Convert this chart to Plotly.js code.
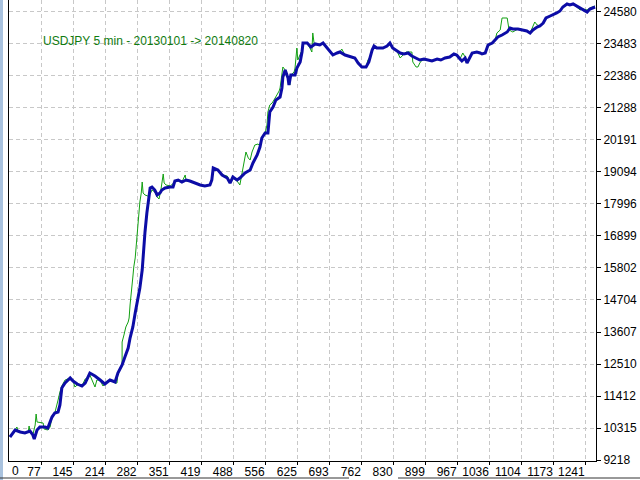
<!DOCTYPE html>
<html>
<head>
<meta charset="utf-8">
<script src="https://cdn.plot.ly/plotly-3.0.1.min.js"></script>
<style>html,body{margin:0;padding:0;background:#fff;}#chart{width:640px;height:480px;}</style>
</head>
<body>
<div id="chart"></div>
<script>
// Chart title
const chartTitle = "USDJPY 5 min - 20130101 -> 20140820";

// X axis (trade number) tick labels
const xTickLabels = [77, 145, 214, 282, 351, 419, 488, 556, 625, 693, 762, 830, 899, 967, 1036, 1104, 1173, 1241];
const xFirstLabel = "0";

// Y axis tick labels
const yTickValues = [9218, 10315.33, 11412.67, 12510, 13607.33, 14704.67, 15802, 16899.33, 17996.67, 19094, 20191.33, 21288.67, 22386, 23483.33, 24580.67];
const yTickLabels = ["9218", "10315", "11412", "12510", "13607", "14704", "15802", "16899", "17996", "19094", "20191", "21288", "22386", "23483", "24580"];

// Balance (blue)
const balanceX = [9,20,31,41,52,58,61,67,73,84,90,99,105,112,116,120,127,138,144,153,163,170,180,191,202,212,223,234,240,249,255,262,266,272,277,283,287,292,294,298,302,307,309,313,319,324,330,334,341,352,358,362,369,377,386,394,405,416,426,437,441,444,454,463,474,480,486,495,501,512,523,529,538,544,548,555,561,563,565,572,578,587,591,593,598,604,606,610,619,623,630,634,636,645,653,662,672,679,688,694,700,709,715,726,737,747,754,762,771,777,784,788,794,807,816,822,828,837,844,852,861,869,878,886,895,902,912,923,931,940,950,959,965,972,976,983,987,998,1008,1015,1019,1026,1030,1032,1041,1047,1053,1062,1073,1079,1085,1096,1107,1115,1122,1128,1137,1143,1150,1156,1165,1171,1179,1186,1192,1201,1207,1214,1222,1229,1235,1244,1250,1257,1261];
const balanceY = [10007,10247,10178,10144,10212,10075,9938,10247,10350,10350,10315,10692,10830,10864,11104,11687,11858,12030,11927,11824,11755,11858,12201,12098,11961,11824,11961,11893,12201,12476,12750,13058,13401,13779,14259,14704,15116,15733,16316,17036,17688,18202,18545,18579,18476,18305,18373,18476,18545,18579,18579,18785,18819,18751,18819,18785,18716,18648,18613,18648,18819,19231,19162,18991,18888,18716,18922,18819,18888,19059,19162,19402,19676,19951,20259,20431,20431,20877,21151,21323,21562,21665,21974,22351,22591,22317,22077,22419,22419,22659,22865,23208,23517,23517,23380,23483,23448,23517,23345,23208,23105,23174,23208,23105,23037,23002,22831,22694,22694,22865,23277,23414,23345,23345,23414,23517,23345,23243,23174,23140,23174,23071,23002,22934,22968,22934,22899,22968,22934,23002,23037,23140,23105,22968,22899,23002,22831,23174,23208,23174,23140,23174,23345,23448,23517,23620,23723,23791,23894,24031,23997,23997,23963,23929,23860,23963,24066,24100,24203,24374,24443,24477,24546,24614,24751,24855,24820,24855,24786,24717,24683,24580,24683,24717,24751];

// Equity (green)
const equityX = [9,20,24,26,41,48,50,52,58,63,65,67,80,82,90,95,99,105,110,112,116,120,127,138,144,148,153,163,170,176,180,187,191,195,202,208,212,223,234,238,240,249,249,253,257,262,264,266,268,270,272,274,277,279,281,283,285,287,290,292,294,298,304,309,313,319,324,328,332,334,337,339,343,352,362,369,377,384,386,394,405,416,426,437,441,444,454,463,474,480,486,495,501,508,514,519,523,527,533,540,544,548,555,559,561,565,570,574,578,585,587,591,593,598,604,608,610,617,619,623,625,630,634,636,645,653,655,657,660,672,679,688,694,700,709,715,719,726,737,747,754,762,771,775,780,784,788,794,807,816,822,828,837,844,850,857,869,871,878,882,886,891,902,912,923,931,940,950,959,965,972,978,983,987,998,1008,1019,1026,1030,1041,1047,1051,1058,1062,1073,1077,1085,1096,1107,1115,1122,1128,1132,1137,1143,1150,1156,1165,1171,1179,1186,1192,1201,1207,1214,1222,1229,1235,1244,1250,1257,1261];
const equityY = [10007,10247,10350,10212,10144,10178,10384,10178,10075,10418,10795,10521,10487,10281,10247,10350,10692,10830,11104,11275,11550,11755,11961,12030,11927,11721,11790,11755,11996,12030,12133,11893,11721,11961,11961,11755,11824,11961,11858,11858,12201,12476,13264,13505,13779,13950,14087,14533,14944,15219,15493,15836,16145,16522,16933,17345,17791,18065,18373,18751,18373,18305,18271,18339,18476,18408,18236,18168,18476,18751,19025,18716,18648,18613,18751,18785,18751,18991,18785,18785,18716,18648,18613,18648,18888,19231,19162,18991,18956,18716,18888,18785,18648,19334,19779,19574,19505,19779,20019,20054,19985,20259,20431,20705,21151,21391,21460,21562,21665,21871,21974,22523,22694,22591,22317,22077,22419,22522,22659,23345,22934,23105,23277,23517,23517,23277,23208,23860,23483,23448,23517,23345,23208,23105,23174,23208,23311,23105,23037,23002,22831,22694,22694,22934,23037,23277,23414,23345,23345,23414,23517,23345,23243,23002,23105,23208,23208,22865,22694,22694,22831,22934,22934,22899,22968,22934,23002,23037,23140,23105,22968,23174,23037,22865,23174,23208,23140,23174,23345,23517,23620,23860,23963,24374,24374,23963,23894,23997,23963,23929,23860,24100,24237,24134,24100,24203,24374,24443,24477,24546,24614,24751,24855,24820,24855,24751,24649,24683,24649,24717,24751,24786];

const FONT = "Liberation Sans, Arial, sans-serif";

const traces = [
  {x: equityX, y: equityY, type: "scatter", mode: "lines",
   line: {color: "#12a012", width: 1}, hoverinfo: "skip"},
  {x: balanceX, y: balanceY, type: "scatter", mode: "lines",
   line: {color: "#0c0ca6", width: 3}, hoverinfo: "skip"}
];

const layout = {
  width: 640, height: 480,
  margin: {l: 9, r: 44, t: 0, b: 19, pad: 0},
  paper_bgcolor: "#ffffff", plot_bgcolor: "#ffffff",
  showlegend: false,
  hovermode: false,
  font: {family: FONT, size: 12, color: "#000000"},
  title: {text: chartTitle, font: {family: FONT, size: 12, color: "#107c10"},
          xref: "container", yref: "container", x: 43/640, xanchor: "left",
          y: 1 - 41/480, yanchor: "middle"},
  xaxis: {
    range: [7, 1263], tickmode: "array",
    tickvals: xTickLabels, ticktext: xTickLabels.map(String),
    ticklabelposition: "outside left", tickangle: 0,
    ticks: "outside", ticklen: 3, tickcolor: "#000", tickwidth: 1,
    showgrid: true, gridcolor: "#c8c8c8", griddash: "4px,3px", gridwidth: 1,
    zeroline: false, showline: true, linecolor: "#000", linewidth: 1,
    tickfont: {family: FONT, size: 12, color: "#000"}, fixedrange: true
  },
  yaxis: {
    range: [9184, 24991], side: "right", tickmode: "array",
    tickvals: yTickValues, ticktext: yTickLabels,
    ticks: "outside", ticklen: 4, tickcolor: "#000", tickwidth: 1,
    showgrid: true, gridcolor: "#c8c8c8", griddash: "4px,3px", gridwidth: 1,
    zeroline: false, showline: true, mirror: true, linecolor: "#000", linewidth: 1,
    tickfont: {family: FONT, size: 12, color: "#000"}, fixedrange: true
  },
  annotations: [
    {text: xFirstLabel, xref: "paper", yref: "paper", x: 1/587, y: -10/461,
     xanchor: "left", yanchor: "middle", showarrow: false,
     font: {family: FONT, size: 12, color: "#000"}}
  ],
  shapes: [
    {type: "rect", xref: "paper", yref: "paper", x0: -9/587, x1: -6/587, y0: -19/461, y1: 1,
     fillcolor: "#a9c2de", line: {width: 0}, layer: "above"},
    {type: "line", xref: "paper", yref: "paper", x0: -9/587, x1: 340/587, y0: -17/461, y1: -17/461,
     line: {color: "#333333", width: 1}},
    {type: "line", xref: "paper", yref: "paper", x0: 389/587, x1: 631/587, y0: -17/461, y1: -17/461,
     line: {color: "#333333", width: 1}}
  ]
};

Plotly.newPlot("chart", traces, layout, {staticPlot: true, displayModeBar: false});
</script>
</body>
</html>
